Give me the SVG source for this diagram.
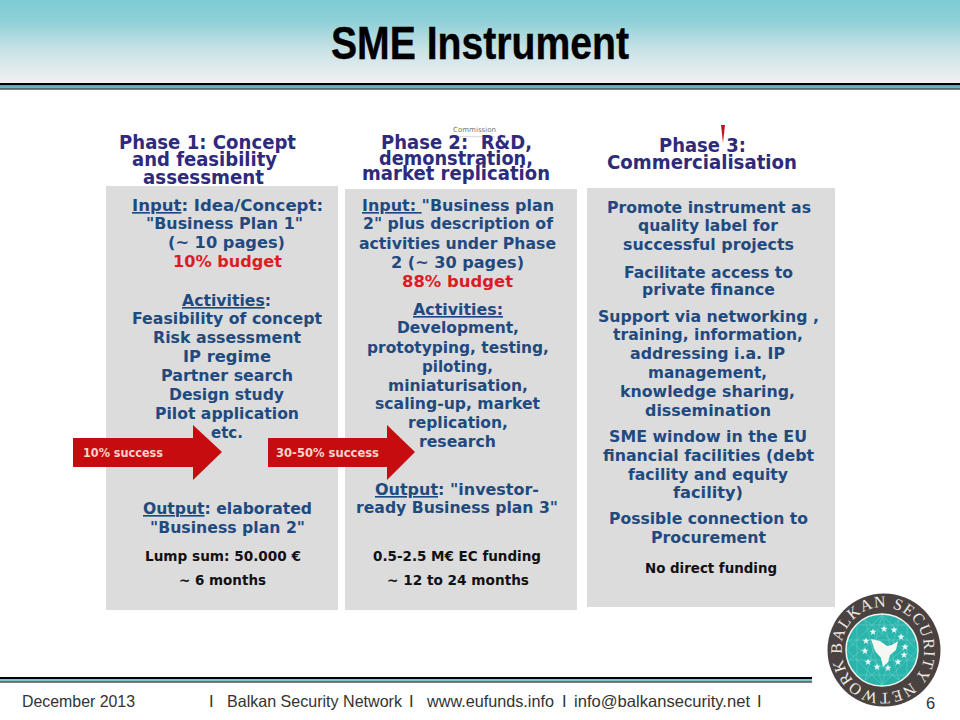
<svg xmlns="http://www.w3.org/2000/svg" width="960" height="720" viewBox="0 0 960 720">
<style>
text{font-family:"DejaVu Sans",Verdana,sans-serif;font-weight:bold;text-anchor:start}
.h{fill:#2e2a7c;font-size:19px}
.b{fill:#1f4a80;font-size:16.500px;transform:translateY(1px)}
.r{fill:#dc1c24;font-size:16.500px;transform:translateY(1px)}
.k{fill:#111;font-size:14.500px}
.w{fill:#f4d4cc;font-size:12px}
.f{font-family:"Liberation Sans",Arial,sans-serif;font-weight:normal;fill:#333;font-size:16.500px}
.box{fill:#dcdcdc}
.arrow{fill:#c70c10}
.star{fill:#e8f8f6}
.geo{fill:none;stroke:#7ed6ce;stroke-width:.6;stroke-opacity:.7}
</style>
<defs>
<linearGradient id="hd" x1="0" y1="0" x2="0" y2="1"><stop offset="0" stop-color="#7fcbd3"/><stop offset=".25" stop-color="#8ed0d7"/><stop offset=".6" stop-color="#c9e2e6"/><stop offset=".95" stop-color="#eceff2"/></linearGradient>
<path id="ringT" d="M842.200 653.600A41 41 0 1 1 923.800 646.400A41 41 0 1 1 842.200 653.600"/>
<polygon id="st" class="star" points="0,-3.600 1,-1.200 3.600,-1.200 1.400,.5 2.300,3.100 0,1.600 -2.300,3.100 -1.400,.5 -3.600,-1.200 -1,-1.200"/>
</defs>
<rect width="960" height="720" fill="#fff"/>
<g id="header">
<rect width="960" height="83" fill="url(#hd)"/>
<rect y="83" width="960" height="2.500" fill="#000"/>
<rect y="85.500" width="960" height="3" fill="#5db8c4"/>
<rect y="88.500" width="960" height="1" fill="#000"/>
<text x="331" y="59" textLength="298" lengthAdjust="spacingAndGlyphs" stroke="#000" stroke-width=".4" style="font-family:'Liberation Sans',Arial,sans-serif;font-size:47px;fill:#000">SME Instrument</text>
</g>
<g id="phase1">
<rect class="box" x="106" y="186" width="232" height="424"/>
<text class="h" x="119" y="149" textLength="177" lengthAdjust="spacingAndGlyphs">Phase 1: Concept</text>
<text class="h" x="132" y="166" textLength="145" lengthAdjust="spacingAndGlyphs">and feasibility</text>
<text class="h" x="143" y="184" textLength="121" lengthAdjust="spacingAndGlyphs">assessment</text>
<text class="b" x="132" y="210" textLength="191" lengthAdjust="spacingAndGlyphs"><tspan text-decoration="underline">Input</tspan>: Idea/Concept:</text>
<text class="b" x="146" y="228" textLength="157" lengthAdjust="spacingAndGlyphs">"Business Plan 1"</text>
<text class="b" x="168" y="247" textLength="117" lengthAdjust="spacingAndGlyphs">(~ 10 pages)</text>
<text class="r" x="173" y="266" textLength="109" lengthAdjust="spacingAndGlyphs">10% budget</text>
<text class="b" x="182" y="305" textLength="89" lengthAdjust="spacingAndGlyphs"><tspan text-decoration="underline">Activities</tspan>:</text>
<text class="b" x="132" y="323" textLength="190" lengthAdjust="spacingAndGlyphs">Feasibility of concept</text>
<text class="b" x="153" y="342" textLength="148" lengthAdjust="spacingAndGlyphs">Risk assessment</text>
<text class="b" x="183" y="361" textLength="88" lengthAdjust="spacingAndGlyphs">IP regime</text>
<text class="b" x="161" y="380" textLength="132" lengthAdjust="spacingAndGlyphs">Partner search</text>
<text class="b" x="169" y="399" textLength="115" lengthAdjust="spacingAndGlyphs">Design study</text>
<text class="b" x="155" y="418" textLength="144" lengthAdjust="spacingAndGlyphs">Pilot application</text>
<text class="b" x="211" y="437" textLength="32" lengthAdjust="spacingAndGlyphs">etc.</text>
<text class="b" x="143" y="513" textLength="169" lengthAdjust="spacingAndGlyphs"><tspan text-decoration="underline">Output</tspan>: elaborated</text>
<text class="b" x="150" y="532" textLength="155" lengthAdjust="spacingAndGlyphs">"Business plan 2"</text>
<text class="k" x="145" y="561" textLength="156" lengthAdjust="spacingAndGlyphs">Lump sum: 50.000 €</text>
<text class="k" x="179" y="585" textLength="87" lengthAdjust="spacingAndGlyphs">~ 6 months</text>
</g>
<g id="phase2">
<rect class="box" x="345" y="189" width="232" height="421"/>
<text x="453" y="132" textLength="43" lengthAdjust="spacingAndGlyphs" style="font-size:7px;font-weight:normal;fill:#777">Commission</text>
<rect x="455" y="136.500" width="40" height=".6" fill="#bbb"/>
<text class="h" x="381" y="149" textLength="151" lengthAdjust="spacingAndGlyphs" xml:space="preserve">Phase 2:  R&amp;D,</text>
<text class="h" x="379" y="165" textLength="154" lengthAdjust="spacingAndGlyphs">demonstration,</text>
<text class="h" x="362" y="180" textLength="188" lengthAdjust="spacingAndGlyphs">market replication</text>
<text class="b" x="362" y="210" textLength="192" lengthAdjust="spacingAndGlyphs"><tspan text-decoration="underline">Input: </tspan>"Business plan</text>
<text class="b" x="363" y="228" textLength="190" lengthAdjust="spacingAndGlyphs">2" plus description of</text>
<text class="b" x="359" y="248" textLength="197" lengthAdjust="spacingAndGlyphs">activities under Phase</text>
<text class="b" x="391" y="267" textLength="133" lengthAdjust="spacingAndGlyphs">2 (~ 30 pages)</text>
<text class="r" x="402" y="286" textLength="111" lengthAdjust="spacingAndGlyphs">88% budget</text>
<text class="b" x="413" y="314" textLength="90" lengthAdjust="spacingAndGlyphs" text-decoration="underline">Activities:</text>
<text class="b" x="397" y="332" textLength="122" lengthAdjust="spacingAndGlyphs">Development,</text>
<text class="b" x="367" y="352" textLength="182" lengthAdjust="spacingAndGlyphs">prototyping, testing,</text>
<text class="b" x="422" y="371" textLength="71" lengthAdjust="spacingAndGlyphs">piloting,</text>
<text class="b" x="388" y="390" textLength="140" lengthAdjust="spacingAndGlyphs">miniaturisation,</text>
<text class="b" x="375" y="408" textLength="165" lengthAdjust="spacingAndGlyphs">scaling-up, market</text>
<text class="b" x="408" y="427" textLength="100" lengthAdjust="spacingAndGlyphs">replication,</text>
<text class="b" x="419" y="446" textLength="77" lengthAdjust="spacingAndGlyphs">research</text>
<text class="b" x="375" y="494" textLength="164" lengthAdjust="spacingAndGlyphs"><tspan text-decoration="underline">Output</tspan>: "investor-</text>
<text class="b" x="356" y="512" textLength="202" lengthAdjust="spacingAndGlyphs">ready Business plan 3"</text>
<text class="k" x="373" y="561" textLength="168" lengthAdjust="spacingAndGlyphs">0.5-2.5 M€ EC funding</text>
<text class="k" x="387" y="585" textLength="142" lengthAdjust="spacingAndGlyphs">~ 12 to 24 months</text>
</g>
<g id="phase3">
<rect class="box" x="587" y="188" width="248" height="419"/>
<polygon points="721,125 725,125 723,143" fill="#c0141c"/>
<text class="h" x="659" y="152" textLength="87" lengthAdjust="spacingAndGlyphs">Phase 3:</text>
<text class="h" x="607" y="169" textLength="190" lengthAdjust="spacingAndGlyphs">Commercialisation</text>
<text class="b" x="607" y="212" textLength="204" lengthAdjust="spacingAndGlyphs">Promote instrument as</text>
<text class="b" x="638" y="230" textLength="140" lengthAdjust="spacingAndGlyphs">quality label for</text>
<text class="b" x="623" y="249" textLength="171" lengthAdjust="spacingAndGlyphs">successful projects</text>
<text class="b" x="624" y="277" textLength="169" lengthAdjust="spacingAndGlyphs">Facilitate access to</text>
<text class="b" x="642" y="294" textLength="133" lengthAdjust="spacingAndGlyphs">private finance</text>
<text class="b" x="598" y="321" textLength="221" lengthAdjust="spacingAndGlyphs">Support via networking ,</text>
<text class="b" x="613" y="339" textLength="190" lengthAdjust="spacingAndGlyphs">training, information,</text>
<text class="b" x="630" y="358" textLength="155" lengthAdjust="spacingAndGlyphs">addressing i.a. IP</text>
<text class="b" x="648" y="377" textLength="119" lengthAdjust="spacingAndGlyphs">management,</text>
<text class="b" x="620" y="396" textLength="175" lengthAdjust="spacingAndGlyphs">knowledge sharing,</text>
<text class="b" x="645" y="415" textLength="126" lengthAdjust="spacingAndGlyphs">dissemination</text>
<text class="b" x="609" y="441" textLength="198" lengthAdjust="spacingAndGlyphs">SME window in the EU</text>
<text class="b" x="603" y="460" textLength="211" lengthAdjust="spacingAndGlyphs">financial facilities (debt</text>
<text class="b" x="628" y="479" textLength="160" lengthAdjust="spacingAndGlyphs">facility and equity</text>
<text class="b" x="673" y="497" textLength="70" lengthAdjust="spacingAndGlyphs">facility)</text>
<text class="b" x="609" y="523" textLength="199" lengthAdjust="spacingAndGlyphs">Possible connection to</text>
<text class="b" x="651" y="542" textLength="115" lengthAdjust="spacingAndGlyphs">Procurement</text>
<text class="k" x="645" y="573" textLength="132" lengthAdjust="spacingAndGlyphs">No direct funding</text>
</g>
<g id="connectors">
<polygon class="arrow" points="73,438 193,438 193,425 222,452 193,480 193,467 73,467"/>
<polygon class="arrow" points="268,438 387,438 387,425 415,452 387,480 387,467 268,467"/>
<text class="w" x="83" y="457" textLength="80" lengthAdjust="spacingAndGlyphs">10% success</text>
<text class="w" x="276" y="457" textLength="103" lengthAdjust="spacingAndGlyphs">30-50% success</text>
</g>
<g id="logo">
<circle cx="884" cy="650" r="56.500" fill="#4a4240"/>
<circle cx="882" cy="650" r="36" fill="#2ab5ac" stroke="#f4f4f0" stroke-width="1.500"/>
<g class="geo">
<polygon points="882,615 899,680 848,640 915,640 865,680"/>
<polygon points="882,685 865,620 916,660 849,660 899,620"/>
<polygon points="857,625 907,625 907,675 857,675"/>
<polygon points="882,615 917,650 882,685 847,650"/>
</g>
<use href="#st" x="873" y="632"/><use href="#st" x="884" y="629"/><use href="#st" x="894" y="630"/>
<use href="#st" x="901" y="637"/><use href="#st" x="905" y="647"/><use href="#st" x="904" y="655"/>
<use href="#st" x="898" y="662"/><use href="#st" x="888" y="668"/><use href="#st" x="877" y="667"/>
<use href="#st" x="868" y="662"/><use href="#st" x="865" y="651"/><use href="#st" x="866" y="641"/>
<polygon points="871,639 880,641 887,646 892,645 898,641 896,650 890,655 888,662 883,667 881,658 875,651" fill="#f6f6f2"/>
<text style="font-family:'Liberation Serif',serif;font-weight:normal;font-size:16px;fill:#eeeae6" letter-spacing="1.200"><textPath href="#ringT">BALKAN SECURITY NETWORK</textPath></text>
</g>
<g id="footer">
<rect y="677" width="812" height="2" fill="#000"/>
<rect y="679" width="812" height="2.500" fill="#7cc6d0"/>
<rect y="681.500" width="812" height="1" fill="#000"/>
<text class="f" x="22" y="707" textLength="113" lengthAdjust="spacingAndGlyphs">December 2013</text>
<text class="f" x="209" y="707">I</text>
<text class="f" x="227" y="707" textLength="175" lengthAdjust="spacingAndGlyphs">Balkan Security Network</text>
<text class="f" x="409" y="707">I</text>
<text class="f" x="427" y="707" textLength="127" lengthAdjust="spacingAndGlyphs">www.eufunds.info</text>
<text class="f" x="562" y="707">I</text>
<text class="f" x="574" y="707" textLength="176" lengthAdjust="spacingAndGlyphs">info@balkansecurity.net</text>
<text class="f" x="757" y="707">I</text>
<text class="f" x="926" y="709">6</text>
</g>
</svg>
